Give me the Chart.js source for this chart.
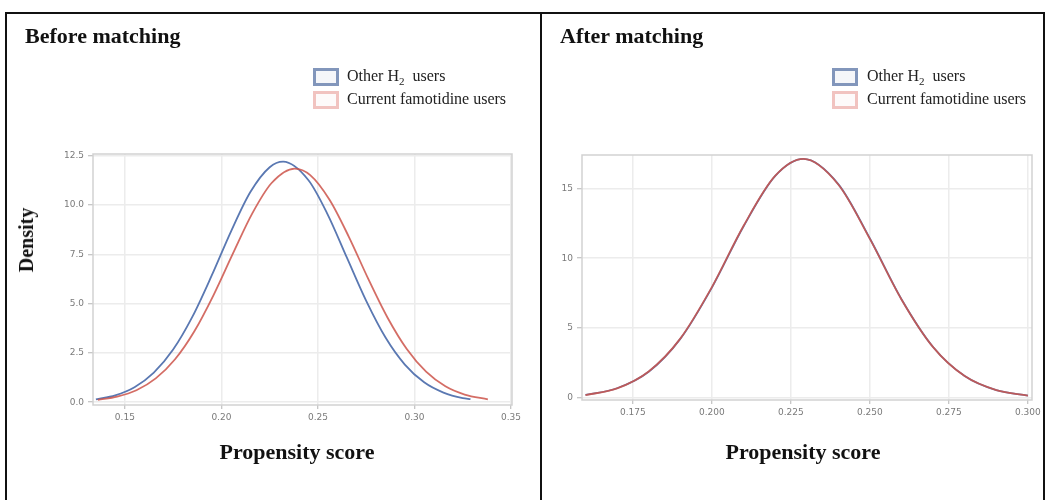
<!DOCTYPE html>
<html>
<head>
<meta charset="utf-8">
<script src="https://cdn.jsdelivr.net/npm/chart.js@4.4.1/dist/chart.umd.min.js"></script>
<style>
  html, body { margin:0; padding:0; background:#fff; }
  body { width:1046px; height:500px; position:relative; overflow:hidden; }
  .serif { font-family:"Liberation Serif","Times New Roman",serif; color:#111; position:absolute; white-space:nowrap; }
  .ptitle { font-size:22px; font-weight:bold; line-height:22px; }
  .axt { font-size:22px; font-weight:bold; line-height:22px; transform:translateX(-50%); }
  .leg { font-size:16px; line-height:16px; color:#222; }
  .leg sub { font-size:11px; line-height:0; vertical-align:-4px; }
  .box { position:absolute; width:20px; height:12px; border:3px solid; }
  canvas { position:absolute; top:0; }
</style>
</head>
<body>
<!-- frame -->
<div style="position:absolute;left:5px;top:12px;width:2px;height:488px;background:#111"></div>
<div style="position:absolute;left:5px;top:12px;width:1040px;height:2px;background:#111"></div>
<div style="position:absolute;left:540px;top:12px;width:2px;height:488px;background:#111"></div>
<div style="position:absolute;left:1043px;top:12px;width:2px;height:488px;background:#111"></div>

<canvas id="before" width="540" height="500" style="left:0"></canvas>
<canvas id="after" width="504" height="500" style="left:542px"></canvas>

<!-- panel titles -->
<div class="serif ptitle" style="left:25px;top:25px">Before matching</div>
<div class="serif ptitle" style="left:560px;top:25px">After matching</div>

<!-- legends -->
<div class="box" style="left:313px;top:68px;border-color:#8296bb;background:#f5f6f9"></div>
<div class="box" style="left:313px;top:91px;border-color:#f1c3c0;background:#fdfafa"></div>
<div class="serif leg" style="left:347px;top:68px">Other H<sub>2</sub>&nbsp; users</div>
<div class="serif leg" style="left:347px;top:91px">Current famotidine users</div>

<div class="box" style="left:832px;top:68px;border-color:#8296bb;background:#f5f6f9"></div>
<div class="box" style="left:832px;top:91px;border-color:#f1c3c0;background:#fdfafa"></div>
<div class="serif leg" style="left:867px;top:68px">Other H<sub>2</sub>&nbsp; users</div>
<div class="serif leg" style="left:867px;top:91px">Current famotidine users</div>

<!-- axis titles -->
<div class="serif" style="left:26px;top:240px;font-size:20px;font-weight:bold;line-height:20px;transform:translate(-50%,-50%) rotate(-90deg)">Density</div>
<div class="serif axt" style="left:297px;top:441px">Propensity score</div>
<div class="serif axt" style="left:803px;top:441px">Propensity score</div>

<script>
// ---------- data: Before matching ----------
const beforeOtherX = [0.135,0.145,0.155,0.165,0.175,0.185,0.195,0.205,0.215,0.225,0.232,0.245,0.255,0.265,0.275,0.285,0.295,0.305,0.315,0.325,0.329];
const beforeOtherY = [0.15,0.35,0.76,1.50,2.67,4.34,6.43,8.67,10.66,11.92,12.20,11.27,9.53,7.33,5.14,3.28,1.91,1.01,0.49,0.21,0.16];
const beforeFamX   = [0.136,0.146,0.156,0.166,0.176,0.186,0.196,0.206,0.216,0.226,0.238,0.246,0.256,0.266,0.276,0.286,0.296,0.306,0.316,0.326,0.338];
const beforeFamY   = [0.12,0.29,0.61,1.21,2.18,3.60,5.45,7.55,9.58,11.12,11.85,11.52,10.27,8.39,6.27,4.30,2.70,1.55,0.81,0.39,0.15];
const beforeXTicks  = [0.15,0.20,0.25,0.30,0.35];
const beforeXLabels = ['0.15','0.20','0.25','0.30','0.35'];
const beforeYTicks  = [0,2.5,5,7.5,10,12.5];
const beforeYLabels = ['0.0','2.5','5.0','7.5','10.0','12.5'];

// ---------- data: After matching ----------
const afterX      = [0.160,0.170,0.180,0.190,0.200,0.210,0.220,0.229,0.240,0.250,0.260,0.270,0.280,0.290,0.300];
const afterOtherY = [0.22,0.70,1.88,4.23,7.90,12.27,15.87,17.10,15.30,11.41,7.07,3.65,1.57,0.56,0.17];
const afterFamY   = [0.21,0.69,1.90,4.25,7.93,12.30,15.88,17.10,15.27,11.38,7.05,3.64,1.57,0.57,0.17];
const afterXTicks  = [0.175,0.200,0.225,0.250,0.275,0.300];
const afterXLabels = ['0.175','0.200','0.225','0.250','0.275','0.300'];
const afterYTicks  = [0,5,10,15];
const afterYLabels = ['0','5','10','15'];

const BLUE = '#5a78b2';
const RED  = 'rgba(205,84,74,0.85)';

const pts = (xs, ys) => xs.map((x, i) => ({x, y: ys[i]}));

const boxPlugin = {
  id: 'plotBox',
  beforeDatasetsDraw(chart) {
    const a = chart.chartArea, c = chart.ctx;
    c.save();
    c.strokeStyle = '#d2d2d2';
    c.lineWidth = 1.5;
    c.strokeRect(a.left, a.top, a.right - a.left, a.bottom - a.top);
    c.restore();
  }
};

function makeChart(id, cfg) {
  const tickFont = {family: 'DejaVu Sans', size: 9};
  return new Chart(document.getElementById(id), {
    type: 'scatter',
    data: {
      datasets: cfg.series.map(s => ({
        label: s.label,
        data: s.data,
        order: s.order,
        showLine: true,
        borderColor: s.color,
        backgroundColor: s.color,
        borderWidth: 1.8,
        pointRadius: 0,
        pointHoverRadius: 0,
        cubicInterpolationMode: 'monotone',
        fill: false
      }))
    },
    options: {
      responsive: false,
      animation: false,
      events: [],
      layout: {padding: cfg.padding},
      plugins: {legend: {display: false}, title: {display: false}, tooltip: {enabled: false}},
      scales: {
        x: {
          type: 'linear', min: cfg.xMin, max: cfg.xMax,
          afterBuildTicks: s => { s.ticks = cfg.xTicks.map(v => ({value: v})); },
          afterFit: s => { s.height = cfg.xHeight; },
          ticks: {font: tickFont, color: '#7a7a7a', padding: 3, maxRotation: 0,
                  callback: (v, i) => cfg.xLabels[i]},
          grid: {color: '#ececec', lineWidth: 1.5, tickLength: 4, tickColor: '#b5b5b5', tickWidth: 1},
          border: {display: false}
        },
        y: {
          type: 'linear', min: cfg.yMin, max: cfg.yMax,
          afterBuildTicks: s => { s.ticks = cfg.yTicks.map(v => ({value: v})); },
          afterFit: s => { s.width = cfg.yWidth; },
          ticks: {font: tickFont, color: '#7a7a7a', padding: 4,
                  callback: (v, i) => cfg.yLabels[i]},
          grid: {color: '#ececec', lineWidth: 1.5, tickLength: 5, tickColor: '#b5b5b5', tickWidth: 1},
          border: {display: false}
        }
      }
    },
    plugins: [boxPlugin]
  });
}

makeChart('before', {
  series: [
    {label: 'Other H2 users', data: pts(beforeOtherX, beforeOtherY), color: BLUE, order: 1},
    {label: 'Current famotidine users', data: pts(beforeFamX, beforeFamY), color: RED, order: 0}
  ],
  padding: {left: 0, top: 154, right: 28, bottom: 0},
  yWidth: 93, xHeight: 95,
  xMin: 0.1335, xMax: 0.3505, yMin: -0.14, yMax: 12.59,
  xTicks: beforeXTicks, xLabels: beforeXLabels,
  yTicks: beforeYTicks, yLabels: beforeYLabels
});

makeChart('after', {
  series: [
    {label: 'Other H2 users', data: pts(afterX, afterOtherY), color: BLUE, order: 1},
    {label: 'Current famotidine users', data: pts(afterX, afterFamY), color: RED, order: 0}
  ],
  padding: {left: 0, top: 155, right: 14, bottom: 0},
  yWidth: 40, xHeight: 100,
  xMin: 0.1589, xMax: 0.3013, yMin: -0.14, yMax: 17.38,
  xTicks: afterXTicks, xLabels: afterXLabels,
  yTicks: afterYTicks, yLabels: afterYLabels
});
</script>
</body>
</html>
